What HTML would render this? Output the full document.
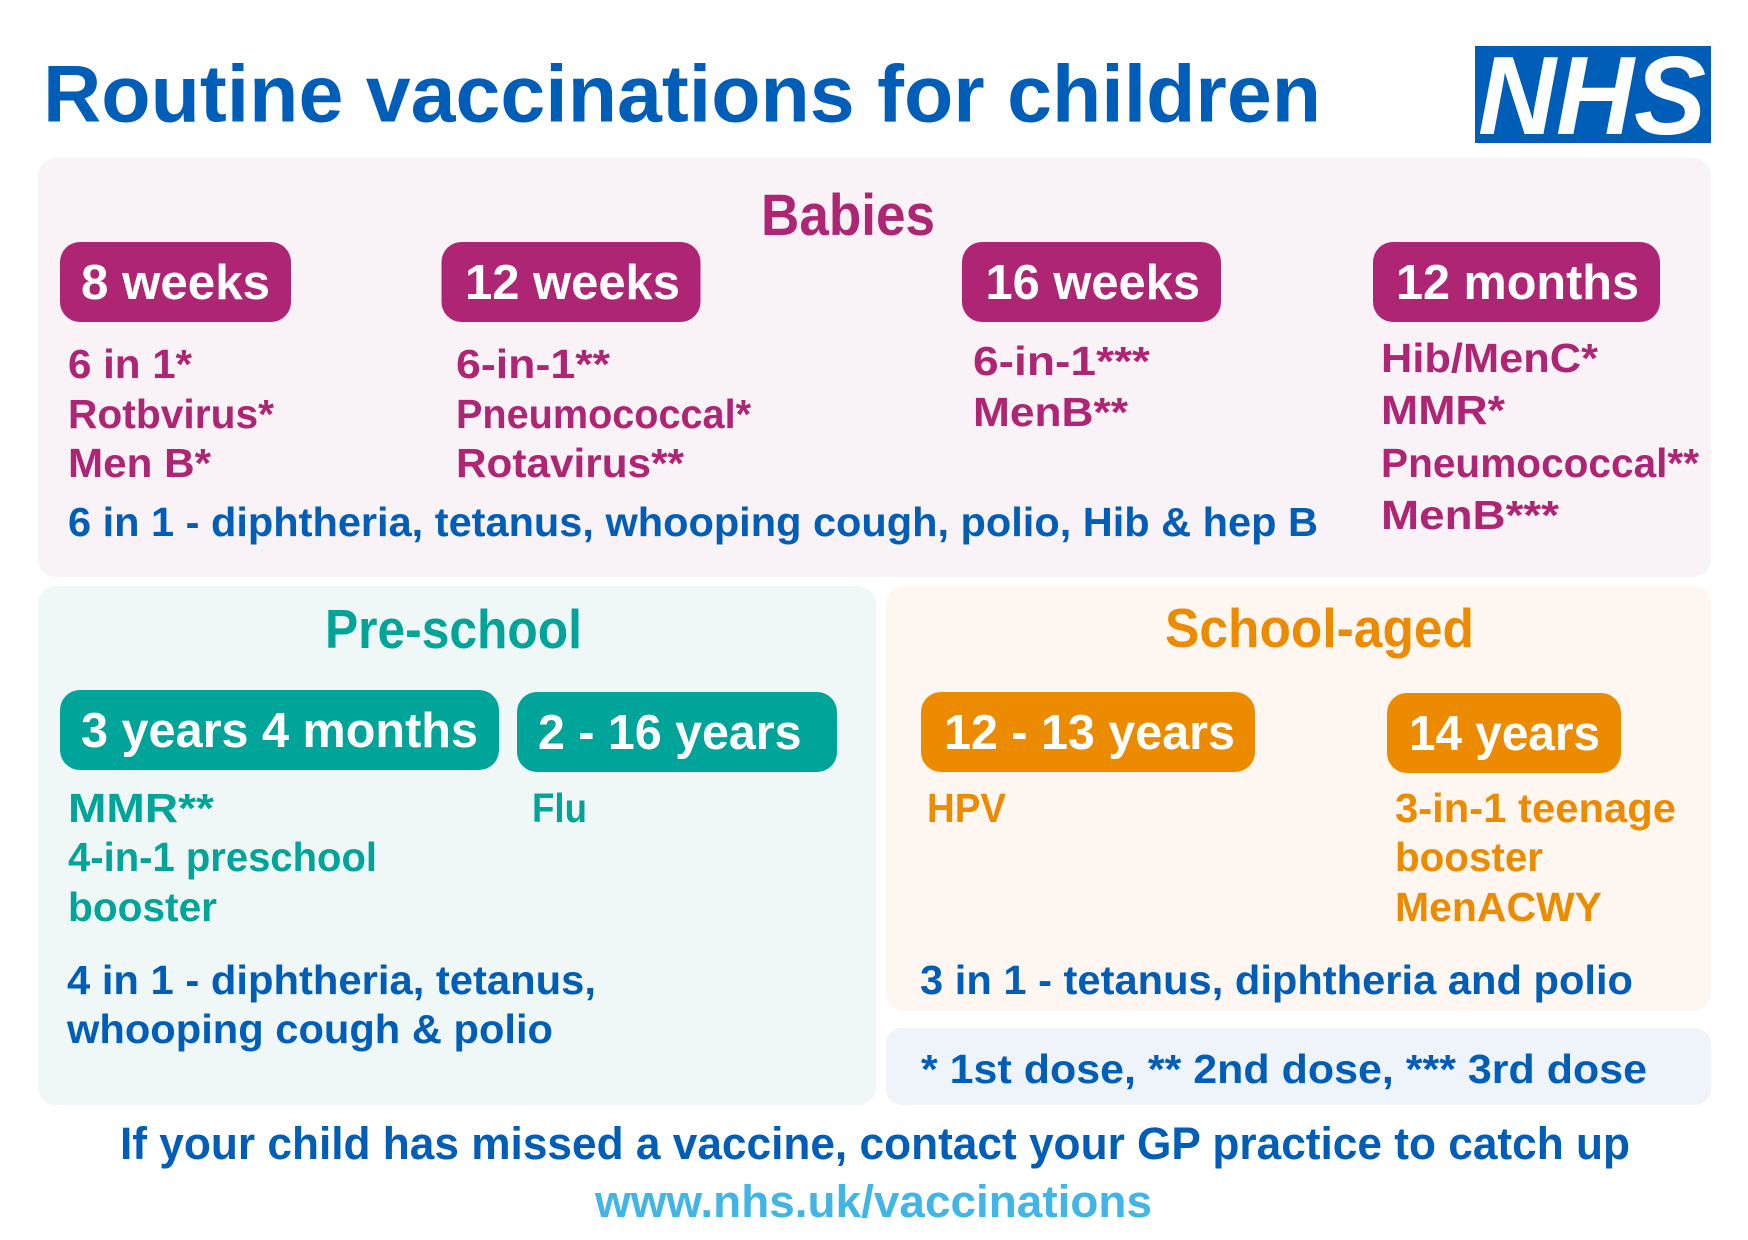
<!DOCTYPE html>
<html>
<head>
<meta charset="utf-8">
<style>
  html, body { margin: 0; padding: 0; background: #ffffff; }
  svg { display: block; }
  text { font-family: "Liberation Sans", Arial, sans-serif; font-weight: bold; }
</style>
</head>
<body>
<svg width="1748" height="1240" viewBox="0 0 1748 1240" xmlns="http://www.w3.org/2000/svg">
  <rect x="0" y="0" width="1748" height="1240" fill="#ffffff"/>

  <!-- Title -->
  <text x="43" y="121.5" font-size="81" fill="#005eb8" textLength="1278" lengthAdjust="spacingAndGlyphs">Routine vaccinations for children</text>

  <!-- NHS logo -->
  <rect x="1475" y="46" width="236" height="97" fill="#005eb8"/>
  <text x="1478" y="134" font-size="111" font-style="italic" fill="#ffffff" textLength="228" lengthAdjust="spacingAndGlyphs">NHS</text>

  <!-- Babies panel -->
  <rect x="38" y="158" width="1673" height="419" rx="18" ry="18" fill="#f9f2f7"/>
  <text x="761" y="235" font-size="58" fill="#ae2573" textLength="174" lengthAdjust="spacingAndGlyphs">Babies</text>

  <rect x="60" y="242" width="231" height="80" rx="20" ry="20" fill="#ae2573"/>
  <text x="81" y="299" font-size="49" fill="#ffffff" textLength="189" lengthAdjust="spacingAndGlyphs">8 weeks</text>
  <rect x="441.5" y="242" width="259" height="80" rx="20" ry="20" fill="#ae2573"/>
  <text x="465" y="299" font-size="49" fill="#ffffff" textLength="215" lengthAdjust="spacingAndGlyphs">12 weeks</text>
  <rect x="962" y="242" width="259" height="80" rx="20" ry="20" fill="#ae2573"/>
  <text x="985.5" y="299" font-size="49" fill="#ffffff" textLength="214.5" lengthAdjust="spacingAndGlyphs">16 weeks</text>
  <rect x="1373" y="242" width="287" height="80" rx="20" ry="20" fill="#ae2573"/>
  <text x="1396" y="299" font-size="49" fill="#ffffff" textLength="243" lengthAdjust="spacingAndGlyphs">12 months</text>

  <g font-size="41" fill="#ae2573">
    <text x="68" y="378" textLength="124" lengthAdjust="spacingAndGlyphs">6 in 1*</text>
    <text x="68" y="428" textLength="206" lengthAdjust="spacingAndGlyphs">Rotbvirus*</text>
    <text x="68" y="477" textLength="143" lengthAdjust="spacingAndGlyphs">Men B*</text>

    <text x="456" y="378" textLength="154" lengthAdjust="spacingAndGlyphs">6-in-1**</text>
    <text x="456" y="428" textLength="295" lengthAdjust="spacingAndGlyphs">Pneumococcal*</text>
    <text x="456" y="477" textLength="228" lengthAdjust="spacingAndGlyphs">Rotavirus**</text>

    <text x="973" y="375" textLength="177" lengthAdjust="spacingAndGlyphs">6-in-1***</text>
    <text x="973" y="426" textLength="155" lengthAdjust="spacingAndGlyphs">MenB**</text>

    <text x="1381" y="372" textLength="217" lengthAdjust="spacingAndGlyphs">Hib/MenC*</text>
    <text x="1381" y="424" textLength="124" lengthAdjust="spacingAndGlyphs">MMR*</text>
    <text x="1381" y="477" textLength="318" lengthAdjust="spacingAndGlyphs">Pneumococcal**</text>
    <text x="1381" y="529" textLength="178" lengthAdjust="spacingAndGlyphs">MenB***</text>
  </g>
  <text x="68" y="536" font-size="41" fill="#005eb8" textLength="1250" lengthAdjust="spacingAndGlyphs">6 in 1 - diphtheria, tetanus, whooping cough, polio, Hib &amp; hep B</text>

  <!-- Pre-school panel -->
  <rect x="38" y="586" width="838" height="519" rx="18" ry="18" fill="#f0f8f7"/>
  <text x="325" y="648" font-size="55" fill="#00a499" textLength="257" lengthAdjust="spacingAndGlyphs">Pre-school</text>

  <rect x="60" y="690" width="439" height="80" rx="20" ry="20" fill="#00a499"/>
  <text x="81" y="747" font-size="49" fill="#ffffff" textLength="397" lengthAdjust="spacingAndGlyphs">3 years 4 months</text>
  <rect x="517" y="692" width="320" height="80" rx="20" ry="20" fill="#00a499"/>
  <text x="538" y="749" font-size="49" fill="#ffffff" textLength="263.5" lengthAdjust="spacingAndGlyphs">2 - 16 years</text>

  <g font-size="41" fill="#00a499">
    <text x="68" y="822" textLength="146" lengthAdjust="spacingAndGlyphs">MMR**</text>
    <text x="68" y="871" textLength="309" lengthAdjust="spacingAndGlyphs">4-in-1 preschool</text>
    <text x="68" y="921" textLength="149" lengthAdjust="spacingAndGlyphs">booster</text>
    <text x="532" y="822" textLength="55" lengthAdjust="spacingAndGlyphs">Flu</text>
  </g>
  <g font-size="41" fill="#005eb8">
    <text x="67" y="994" textLength="529" lengthAdjust="spacingAndGlyphs">4 in 1 - diphtheria, tetanus,</text>
    <text x="67" y="1043" textLength="486" lengthAdjust="spacingAndGlyphs">whooping cough &amp; polio</text>
  </g>

  <!-- School-aged panel -->
  <rect x="886" y="586" width="825" height="425" rx="18" ry="18" fill="#fef7f1"/>
  <text x="1165" y="647" font-size="55" fill="#ed8b00" textLength="309" lengthAdjust="spacingAndGlyphs">School-aged</text>

  <rect x="921" y="692" width="334" height="80" rx="20" ry="20" fill="#ed8b00"/>
  <text x="944" y="749" font-size="49" fill="#ffffff" textLength="291" lengthAdjust="spacingAndGlyphs">12 - 13 years</text>
  <rect x="1387" y="693" width="234" height="80" rx="20" ry="20" fill="#ed8b00"/>
  <text x="1409" y="750" font-size="49" fill="#ffffff" textLength="191" lengthAdjust="spacingAndGlyphs">14 years</text>

  <g font-size="41" fill="#ed8b00">
    <text x="927" y="822" textLength="79" lengthAdjust="spacingAndGlyphs">HPV</text>
    <text x="1395" y="822" textLength="281" lengthAdjust="spacingAndGlyphs">3-in-1 teenage</text>
    <text x="1395" y="871" textLength="148" lengthAdjust="spacingAndGlyphs">booster</text>
    <text x="1395" y="921" textLength="207" lengthAdjust="spacingAndGlyphs">MenACWY</text>
  </g>
  <text x="920" y="994" font-size="41" fill="#005eb8" textLength="713" lengthAdjust="spacingAndGlyphs">3 in 1 - tetanus, diphtheria and polio</text>

  <!-- Footnote panel -->
  <rect x="886" y="1028" width="825" height="77" rx="16" ry="16" fill="#eff4fa"/>
  <text x="921" y="1083" font-size="41" fill="#005eb8" textLength="726" lengthAdjust="spacingAndGlyphs">* 1st dose, ** 2nd dose, *** 3rd dose</text>

  <!-- Bottom -->
  <text x="120" y="1159" font-size="45" fill="#005eb8" textLength="1510" lengthAdjust="spacingAndGlyphs">If your child has missed a vaccine, contact your GP practice to catch up</text>
  <text x="595" y="1217" font-size="45" fill="#41b6e6" textLength="557" lengthAdjust="spacingAndGlyphs">www.nhs.uk/vaccinations</text>
</svg>
</body>
</html>
